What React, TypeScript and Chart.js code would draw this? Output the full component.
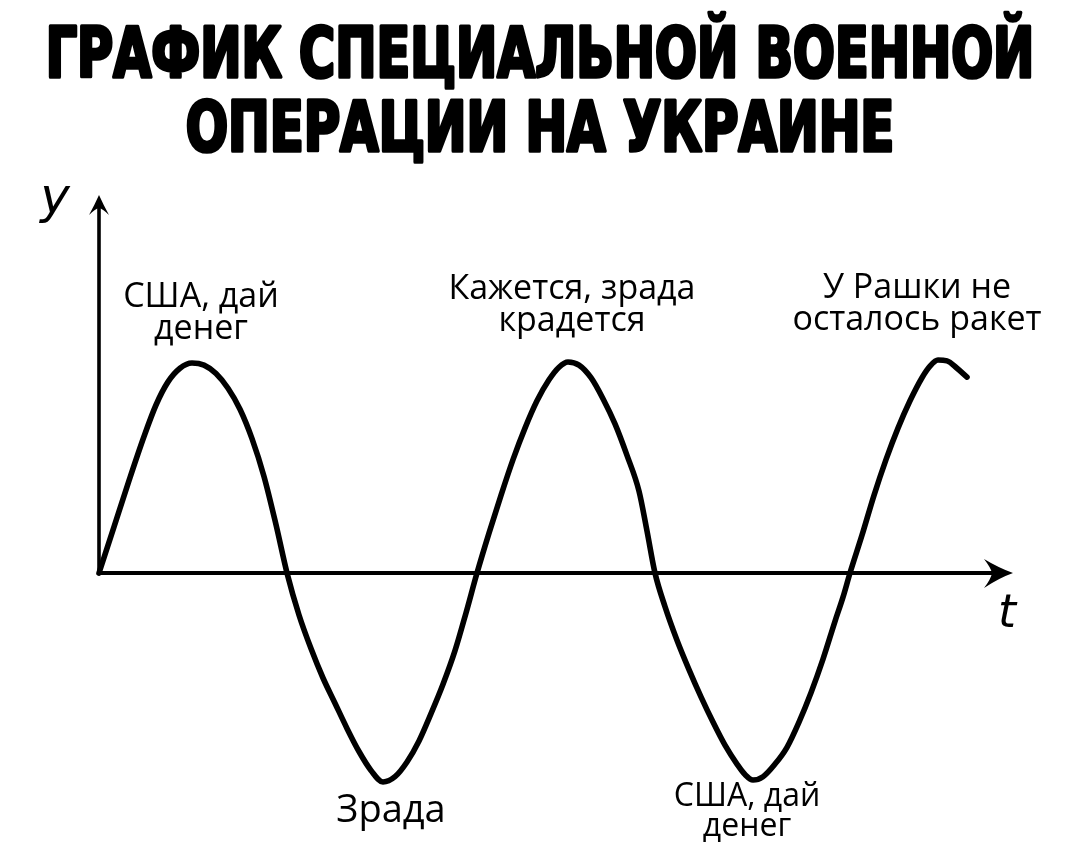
import React, { useEffect, useRef } from "react";
import { Chart, registerables } from "chart.js";

Chart.register(...registerables);

// Title lines
const titleLines = ["ГРАФИК СПЕЦИАЛЬНОЙ ВОЕННОЙ", "ОПЕРАЦИИ НА УКРАИНЕ"];

// Curve: t (time) and y (value, peaks ~ ±100)
const curveT = [
  0, 1.5, 3.0, 4.5, 5.7, 6.9, 8.1, 9.3, 10.5, 11.7, 12.9, 14.1, 15.3, 16.5, 17.7, 18.8,
  20.0, 21.2, 22.4, 23.6, 24.8, 26.0, 27.2, 28.4, 29.6, 30.8, 32.0, 33.2, 34.4, 35.6, 36.7, 37.8,
  39.0, 40.2, 41.4, 42.6, 43.8, 45.0, 46.0, 46.9, 48.0, 49.2, 50.4, 51.6, 52.8, 54.0, 54.8, 55.6,
  56.6, 57.8, 59.0, 60.2, 61.4, 62.6, 63.8, 64.6, 65.4, 66.4, 67.6, 68.8, 70.0, 71.2, 72.4, 73.6, 74.4, 75.1,
  76.3, 77.5, 78.7, 79.9, 81.1, 82.3, 83.1, 83.9, 84.8, 85.8, 86.8,
];
const curveY = [
  0, 22, 44, 65, 80, 91, 97.5, 100, 99, 95, 88, 78, 64, 46, 23, 0,
  -20, -36, -50, -62, -74, -85, -94, -99.5, -97, -90, -80, -67, -53, -37, -19, 0,
  19, 37, 54, 69, 82, 92, 98, 100.5, 99, 93, 83, 71, 56, 39, 20, 0,
  -16, -32, -46, -59, -71, -82, -91, -96, -98.6, -97, -91, -83, -71, -57, -41, -23, -11.5, 0,
  18, 37, 54, 69, 82, 93, 98.5, 101.4, 101, 97.5, 93.3,
];

// Axis ranges
const tMax = 91.4;
const yMin = -130;
const yMax = 180;
const axisLabels = ["y", "t"];

// Annotations: text lines, anchor t, anchor y (first baseline)
const annotationLines = [
  ["США, дай", "денег"],
  ["Кажется, зрада", "крадется"],
  ["У Рашки не", "осталось ракет"],
  ["Зрада"],
  ["США, дай", "денег"],
];
const annotationT = [10.2, 47.3, 81.8, 29.2, 64.8];
const annotationY = [126.7, 130.5, 131, -118.6, -111];
const annotationSize = [34, 34, 34, 38, 32];

const decorPlugin = {
  id: "decor",
  beforeDraw(chart: any) {
    const ctx = chart.ctx;
    ctx.save();
    ctx.fillStyle = "#ffffff";
    ctx.fillRect(0, 0, chart.width, chart.height);
    ctx.restore();
  },
  beforeDatasetsDraw(chart: any) {
    const ctx = chart.ctx;
    const xs = chart.scales.x;
    const ys = chart.scales.y;
    const x0 = xs.getPixelForValue(0);
    const y0 = ys.getPixelForValue(0);
    const xr = xs.getPixelForValue(tMax);
    const yt = ys.getPixelForValue(yMax);
    ctx.save();
    ctx.strokeStyle = "#000";
    ctx.fillStyle = "#000";
    ctx.lineWidth = 4;
    ctx.lineCap = "butt";
    // x axis
    ctx.beginPath();
    ctx.moveTo(x0 - 2, y0);
    ctx.lineTo(xr - 14, y0);
    ctx.stroke();
    // y axis
    ctx.lineWidth = 3.6;
    ctx.beginPath();
    ctx.moveTo(x0, y0 + 2);
    ctx.lineTo(x0, yt + 10);
    ctx.stroke();
    // x arrowhead
    ctx.beginPath();
    ctx.moveTo(xr, y0);
    ctx.quadraticCurveTo(xr - 14, y0 - 5, xr - 29, y0 - 14);
    ctx.quadraticCurveTo(xr - 22, y0 - 5, xr - 21, y0);
    ctx.quadraticCurveTo(xr - 22, y0 + 6, xr - 29, y0 + 15);
    ctx.quadraticCurveTo(xr - 14, y0 + 5, xr, y0);
    ctx.closePath();
    ctx.fill();
    // y arrowhead
    ctx.beginPath();
    ctx.moveTo(x0, yt);
    ctx.quadraticCurveTo(x0 - 4, yt + 9, x0 - 10, yt + 20);
    ctx.quadraticCurveTo(x0 - 4, yt + 14, x0, yt + 13);
    ctx.quadraticCurveTo(x0 + 4, yt + 14, x0 + 10, yt + 20);
    ctx.quadraticCurveTo(x0 + 4, yt + 9, x0, yt);
    ctx.closePath();
    ctx.fill();
    ctx.restore();
  },
  afterDraw(chart: any) {
    const ctx = chart.ctx;
    const xs = chart.scales.x;
    const ys = chart.scales.y;
    const x0 = xs.getPixelForValue(0);
    const y0 = ys.getPixelForValue(0);
    const xr = xs.getPixelForValue(tMax);
    const yt = ys.getPixelForValue(yMax);
    ctx.save();
    ctx.fillStyle = "#000";
    ctx.strokeStyle = "#000";

    // Title, condensed heavy lettering fitted to the line widths
    const titleBase = [78, 152];
    const titleWidth = [983, 706];
    ctx.font = "bold 74px 'DejaVu Sans Condensed', 'Liberation Sans Narrow', 'DejaVu Sans', sans-serif";
    ctx.textAlign = "center";
    ctx.textBaseline = "alphabetic";
    ctx.lineJoin = "round";
    const capH = ctx.measureText("Н").actualBoundingBoxAscent;
    titleLines.forEach((line, i) => {
      const m = ctx.measureText(line);
      const w = m.actualBoundingBoxLeft + m.actualBoundingBoxRight + 4;
      const sx = titleWidth[i] / w;
      const sy = 51 / capH;
      ctx.save();
      ctx.translate(chart.width / 2, titleBase[i] - 1);
      ctx.scale(sx, sy);
      ctx.lineWidth = 4;
      ctx.strokeText(line, 0, 0);
      ctx.fillText(line, 0, 0);
      ctx.restore();
    });

    // Axis labels
    ctx.font = "oblique 50px 'DejaVu Sans', sans-serif";
    ctx.textAlign = "center";
    ctx.fillText(axisLabels[0], x0 - 44, yt + 18);
    ctx.font = "oblique 46px 'DejaVu Sans', sans-serif";
    ctx.fillText(axisLabels[1], xr - 6, y0 + 54);

    // Annotations
    annotationLines.forEach((lines, i) => {
      const size = annotationSize[i];
      ctx.font = `${size}px 'Open Sans', 'Noto Sans', sans-serif`;
      ctx.textAlign = "center";
      const px = xs.getPixelForValue(annotationT[i]);
      const py = ys.getPixelForValue(annotationY[i]);
      lines.forEach((l, j) => {
        ctx.fillText(l, px, py + j * size * 0.94);
      });
    });
    ctx.restore();
  },
};

export default function App() {
  const ref = useRef<HTMLCanvasElement | null>(null);
  useEffect(() => {
    if (!ref.current) return;
    const data = curveT.map((t, i) => ({ x: t, y: curveY[i] }));
    const chart = new Chart(ref.current, {
      type: "line",
      data: {
        datasets: [
          {
            data,
            borderColor: "#000",
            borderWidth: 5.6,
            pointRadius: 0,
            cubicInterpolationMode: "monotone",
            fill: false,
            clip: false as any,
            borderCapStyle: "round",
            borderJoinStyle: "round",
          },
        ],
      },
      options: {
        responsive: false,
        animation: false,
        layout: { padding: { left: 99, right: 67, top: 195, bottom: 4 } },
        scales: {
          x: { type: "linear", min: 0, max: tMax, display: false },
          y: { type: "linear", min: yMin, max: yMax, display: false },
        },
        plugins: {
          legend: { display: false },
          tooltip: { enabled: false },
          title: { display: false },
        },
      },
      plugins: [decorPlugin],
    });
    return () => chart.destroy();
  }, []);
  return (
    <div style={{ position: "absolute", left: 0, top: 0, width: 1080, height: 850, background: "#fff" }}>
      <canvas ref={ref} width={1080} height={850} style={{ display: "block" }} />
    </div>
  );
}
